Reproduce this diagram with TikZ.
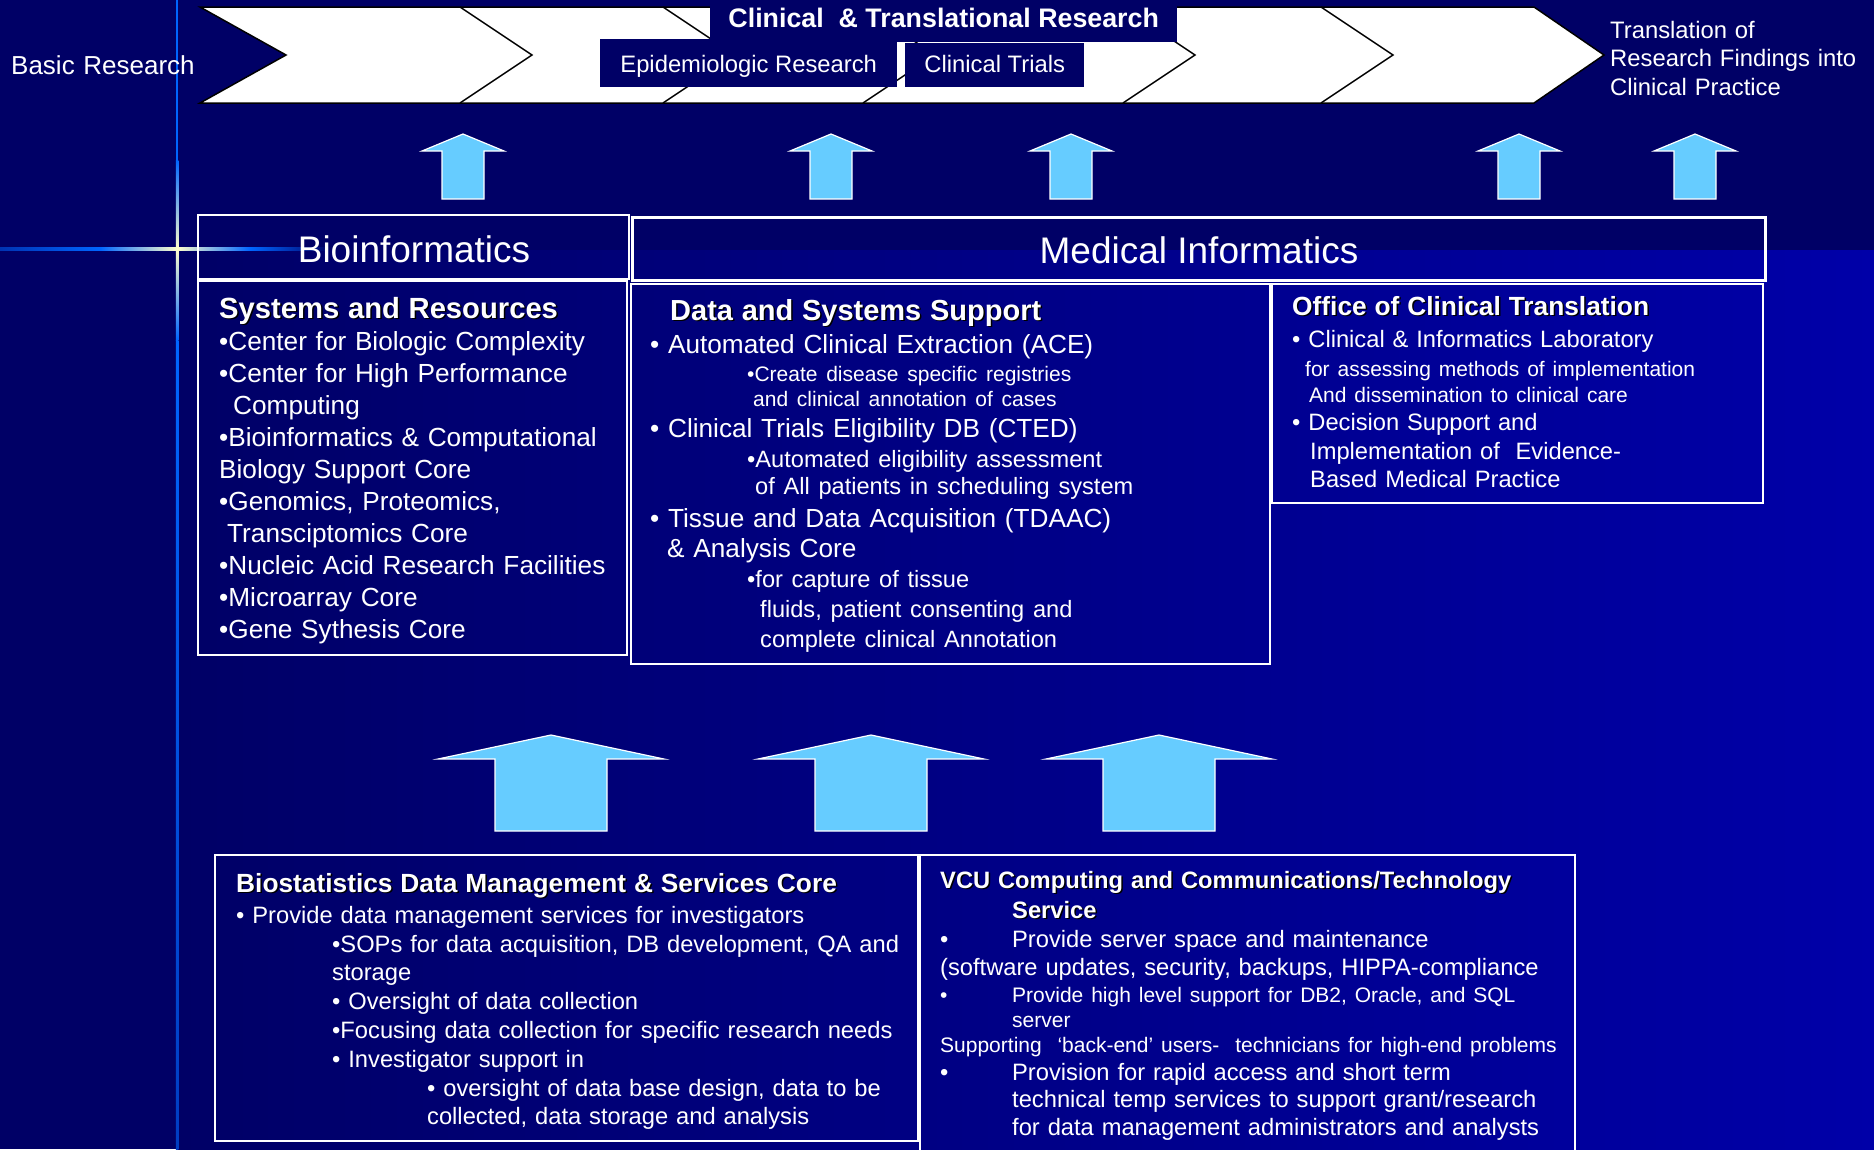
\documentclass[tikz,border=0pt]{standalone}
\usepackage{fontspec}
\setmainfont{Liberation Sans}

\definecolor{navy}{HTML}{000066}
\definecolor{deepblue}{HTML}{0000A8}
\definecolor{flareblue}{HTML}{0066FF}
\definecolor{flarelight}{HTML}{FFFFCC}
\definecolor{arrowblue}{HTML}{66CCFF}

\newcommand{\fsz}[2]{\fontsize{#1}{#2}\selectfont}
\newcommand{\shadowtxt}[1]{\leavevmode\rlap{\kern1.5pt\raisebox{-1.5pt}{\color{black}#1}}#1}

\begin{document}
\begin{tikzpicture}[x=1pt, y=-1pt,
    panel/.style={draw=white, line width=1.8pt},
    tag/.style={fill=navy, text=white, inner sep=0pt, anchor=north west},
    boxtext/.style={text=white, inner sep=0pt, anchor=base west, align=left, text width=720pt},
    uparrow/.style={fill=arrowblue, draw=white, line width=1.2pt}]
  \clip (0,0) rectangle (1874,1149);
  % background and flare
  \fill[navy] (0,0) rectangle (1874,1149);
  \shade[left color=navy, right color=deepblue] (178,250) rectangle (1874,1149);
  \fill[flareblue] (175.8,0) rectangle (178.3,160);
  \shade[top color=flareblue, bottom color=flarelight] (175.8,160) rectangle (178.3,249);
  \shade[top color=flarelight, bottom color=flareblue] (175.8,249) rectangle (178.3,340);
  \shade[top color=flareblue, bottom color=flareblue!60!navy] (175.8,340) rectangle (178.3,1149);
  \shade[left color=flareblue!50!navy, right color=flareblue] (0,247.5) rectangle (100,250.5);
  \shade[left color=flareblue, right color=flarelight] (100,247.5) rectangle (177,250.5);
  \shade[left color=flarelight, right color=flareblue] (177,247.5) rectangle (250,250.5);
  \shade[left color=flareblue, right color=navy] (250,247.5) rectangle (330,250.5);

  % research pipeline
  \draw[fill=white, line width=1.5pt] (200,7) -- (1534,7) -- (1604,55) -- (1534,103) -- (200,103) -- (286,55) -- cycle;
  \draw[line width=1.5pt] (460,7) -- (532,55) -- (460,103);
  \draw[line width=1.5pt] (663,7) -- (735,55) -- (663,103);
  \draw[line width=1.5pt] (863,7) -- (935,55) -- (863,103);
  \draw[line width=1.5pt] (1123,7) -- (1195,55) -- (1123,103);
  \draw[line width=1.5pt] (1321,7) -- (1393,55) -- (1321,103);

  \node[tag, minimum width=467pt, minimum height=42pt, text height=20pt, text depth=8pt, font=\bfseries\fsz{26.8}{32}] (ctr) at (710,0) {Clinical\ \ \& Translational Research};
  \node[tag, minimum width=297pt, minimum height=48pt, text height=22pt, text depth=4pt, font=\fsz{23.8}{28}] (epi) at (600,39) {Epidemiologic Research};
  \node[tag, minimum width=179pt, minimum height=44pt, text height=20pt, text depth=6pt, font=\fsz{23.8}{28}] (trials) at (905,43) {Clinical Trials};

  \node[boxtext, font=\fsz{26}{30}] (basic) at (11,74) {Basic Research};
  \node[boxtext, font=\fsz{23.8}{28.5}] (practice) at (1610,38) {Translation of\\Research Findings into\\Clinical Practice};

  % small arrows
  \draw[uparrow] (463,134) -- ++(41,17) -- ++(-20,0) -- ++(0,48) -- ++(-42,0) -- ++(0,-48) -- ++(-20,0) -- cycle;
  \draw[uparrow] (831,134) -- ++(41,17) -- ++(-20,0) -- ++(0,48) -- ++(-42,0) -- ++(0,-48) -- ++(-20,0) -- cycle;
  \draw[uparrow] (1071,134) -- ++(41,17) -- ++(-20,0) -- ++(0,48) -- ++(-42,0) -- ++(0,-48) -- ++(-20,0) -- cycle;
  \draw[uparrow] (1519,134) -- ++(41,17) -- ++(-20,0) -- ++(0,48) -- ++(-42,0) -- ++(0,-48) -- ++(-20,0) -- cycle;
  \draw[uparrow] (1695,134) -- ++(41,17) -- ++(-20,0) -- ++(0,48) -- ++(-42,0) -- ++(0,-48) -- ++(-20,0) -- cycle;

  % informatics headers
  \draw[panel] (198,215) rectangle (629,279);
  \node[anchor=base, text=white, inner sep=0pt, font=\fsz{37}{40}] (bioinf) at (414,262) {Bioinformatics};
  \draw[panel, line width=3pt] (632,217) rectangle (1765,280);
  \node[anchor=base, text=white, inner sep=0pt, font=\fsz{37}{40}] (medinf) at (1199,263) {Medical Informatics};

  % panels
  \draw[panel] (198,281) rectangle (627,655);
  \draw[panel] (631,284) rectangle (1270,664);
  \draw[panel] (1272,284) rectangle (1763,503);
  \draw[panel] (215,855) rectangle (918,1141);
  \draw[panel] (920,855) rectangle (1575,1170);

  \node[boxtext, font=\fsz{26.2}{32}] (systxt) at (219,318) {%
{\bfseries\fsz{29.2}{32}\shadowtxt{Systems and Resources}}\\
•Center for Biologic Complexity\\
•Center for High Performance\\
\hspace*{14pt}Computing\\
•Bioinformatics \& Computational\\
Biology Support Core\\
•Genomics, Proteomics,\\
\hspace*{8pt}Transciptomics Core\\
•Nucleic Acid Research Facilities\\
•Microarray Core\\
•Gene Sythesis Core};

  \node[boxtext, font=\fsz{26.2}{30}] (datatxt) at (650,320) {%
\hspace*{20pt}{\bfseries\fsz{29}{30}\shadowtxt{Data and Systems Support}}\\[3pt]
• Automated Clinical Extraction (ACE)\\[-2pt]
{\fsz{21}{30}\hspace*{97pt}•Create disease specific registries}\\[-5pt]
{\fsz{21}{30}\hspace*{103pt}and clinical annotation of cases}\\[1pt]
• Clinical Trials Eligibility DB (CTED)\\
{\fsz{23.6}{30}\hspace*{97pt}•Automated eligibility assessment}\\[-3pt]
{\fsz{23.6}{30}\hspace*{105pt}of All patients in scheduling system}\\[3pt]
• Tissue and Data Acquisition (TDAAC)\\
\hspace*{17pt}\& Analysis Core\\
{\fsz{23.6}{30}\hspace*{97pt}•for capture of tissue}\\
{\fsz{23.6}{30}\hspace*{110pt}fluids, patient consenting and}\\
{\fsz{23.6}{30}\hspace*{110pt}complete clinical Annotation}};

  \node[boxtext, font=\fsz{23.7}{28}] (officetxt) at (1292,315) {%
{\bfseries\fsz{26.3}{28}\shadowtxt{Office of Clinical Translation}}\\[4pt]
• Clinical \& Informatics Laboratory\\[1pt]
{\fsz{21}{28}\hspace*{13pt}for assessing methods of implementation}\\[-2pt]
{\fsz{21}{28}\hspace*{17pt}And dissemination to clinical care}\\
• Decision Support and\\[1pt]
\hspace*{18pt}Implementation of\ \ Evidence-\\
\hspace*{18pt}Based Medical Practice};

  % big arrows
  \draw[uparrow] (551,735) -- ++(113,24) -- ++(-57,0) -- ++(0,72) -- ++(-112,0) -- ++(0,-72) -- ++(-57,0) -- cycle;
  \draw[uparrow] (871,735) -- ++(113,24) -- ++(-57,0) -- ++(0,72) -- ++(-112,0) -- ++(0,-72) -- ++(-57,0) -- cycle;
  \draw[uparrow] (1159,735) -- ++(113,24) -- ++(-57,0) -- ++(0,72) -- ++(-112,0) -- ++(0,-72) -- ++(-57,0) -- cycle;

  \node[boxtext, font=\fsz{23.7}{29}] (biostattxt) at (236,892) {%
{\bfseries\fsz{26.3}{29}\shadowtxt{Biostatistics Data Management \& Services Core}}\\[2pt]
• Provide data management services for investigators\\
\hspace*{96pt}•SOPs for data acquisition, DB development, QA and\\[-1pt]
\hspace*{96pt}storage\\
\hspace*{96pt}• Oversight of data collection\\
\hspace*{96pt}•Focusing data collection for specific research needs\\
\hspace*{96pt}• Investigator support in\\
\hspace*{191pt}• oversight of data base design, data to be\\[-1pt]
\hspace*{191pt}collected, data storage and analysis};

  \node[boxtext, font=\fsz{23.7}{28}] (vcutxt) at (940,888) {%
{\bfseries\shadowtxt{VCU Computing and Communications/Technology}}\\[2pt]
{\bfseries\hspace*{72pt}\shadowtxt{Service}}\\[1pt]
\makebox[72pt][l]{•}Provide server space and maintenance\\
(software updates, security, backups, HIPPA-compliance\\[-1pt]
{\fsz{21}{28}\makebox[72pt][l]{•}Provide high level support for DB2, Oracle, and SQL}\\[-3pt]
{\fsz{21}{28}\hspace*{72pt}server}\\[-3pt]
{\fsz{21}{28}Supporting\ \ `back-end' users-\ \ technicians for high-end problems}\\
\makebox[72pt][l]{•}Provision for rapid access and short term\\[-1pt]
\hspace*{72pt}technical temp services to support grant/research\\
\hspace*{72pt}for data management administrators and analysts};
\end{tikzpicture}
\end{document}
